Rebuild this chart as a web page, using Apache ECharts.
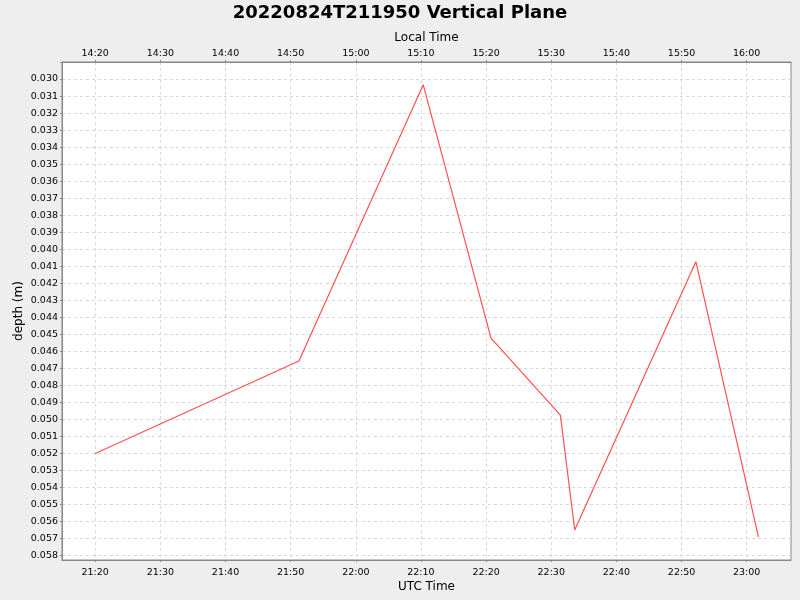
<!DOCTYPE html>
<html>
<head>
<meta charset="utf-8">
<script src="https://cdn.jsdelivr.net/npm/echarts@6/dist/echarts.min.js"></script>
<style>
html,body{margin:0;padding:0;background:#eeeeee;}
#c{width:800px;height:600px;}
</style>
</head>
<body>
<div id="c"></div>
<script>
// UTC sample times and depths (m)
var times = ["21:20:00","21:51:16","22:10:21","22:20:45","22:31:24","22:33:36","22:52:12","23:01:48"];
var depths = [0.0520, 0.04657, 0.03034, 0.04522, 0.04975, 0.0565, 0.04073, 0.0569];
// axis tick labels (UTC) and local offset (hours)
var utcTicks = ["21:20","21:30","21:40","21:50","22:00","22:10","22:20","22:30","22:40","22:50","23:00"];
var localOffsetHours = -7;
var xRange = ["21:14:54","23:06:48"];
var depthRange = [0.029, 0.05826];

function toMin(t){ var p=t.split(':').map(Number); return (p[0]-21)*60+p[1]+(p[2]||0)/60; }
function fmt(m, off){
  var tot = Math.round(m) + 21*60 + off*60;
  tot = ((tot % 1440) + 1440) % 1440;
  var h = Math.floor(tot/60), mm = tot%60;
  return (h<10?'0':'')+h+':'+(mm<10?'0':'')+mm;
}
var tickVals = utcTicks.map(toMin);
var data = times.map(function(t,i){ return [toMin(t), depths[i]]; });

var font = 'DejaVu Sans';
var chart = echarts.init(document.getElementById('c'));
chart.setOption({
  backgroundColor: '#eeeeee',
  animation: false,
  title: {
    text: '20220824T211950 Vertical Plane',
    left: 'center', top: -1,
    textStyle: {fontFamily: font, fontWeight: 'bold', fontSize: 18, color: '#000'}
  },
  grid: {
    left: 62, right: 9, top: 62, bottom: 40,
    outerBoundsMode: 'none', containLabel: false,
    show: true, backgroundColor: '#ffffff', borderColor: '#888888', borderWidth: 1
  },
  xAxis: [{
    type: 'value', position: 'bottom',
    min: toMin(xRange[0]), max: toMin(xRange[1]),
    name: 'UTC Time', nameLocation: 'middle', nameGap: 21, nameMoveOverlap: false,
    nameTextStyle: {fontFamily: font, fontSize: 12, color: '#000'},
    axisLine: {show: true, lineStyle: {color: '#888888'}},
    axisTick: {show: true, length: 2, customValues: tickVals, lineStyle: {color: '#888888'}},
    axisLabel: {customValues: tickVals, fontFamily: font, fontSize: 9.5, color: '#000', margin: 8,
      formatter: function(v){ return fmt(v, 0); }},
    splitLine: {show: true, lineStyle: {color: '#d9d9d9', type: [3,3]}}
  },{
    type: 'value', position: 'top',
    min: toMin(xRange[0]), max: toMin(xRange[1]),
    name: 'Local Time', nameLocation: 'middle', nameGap: 18, nameMoveOverlap: false,
    nameTextStyle: {fontFamily: font, fontSize: 12, color: '#000'},
    axisLine: {show: true, lineStyle: {color: '#888888'}},
    axisTick: {show: true, length: 2, customValues: tickVals, lineStyle: {color: '#888888'}},
    axisLabel: {customValues: tickVals, fontFamily: font, fontSize: 9.5, color: '#000', margin: 3,
      formatter: function(v){ return fmt(v, localOffsetHours); }},
    splitLine: {show: false}
  }],
  yAxis: {
    type: 'value', inverse: true,
    min: depthRange[0], max: depthRange[1], interval: 0.001,
    name: 'depth (m)', nameLocation: 'middle', nameGap: 37, nameRotate: 90, nameMoveOverlap: false,
    nameTextStyle: {fontFamily: font, fontSize: 12, color: '#000'},
    axisLine: {show: true, lineStyle: {color: '#888888'}},
    axisTick: {show: true, length: 2, lineStyle: {color: '#888888'}},
    axisLabel: {fontFamily: font, fontSize: 9.5, color: '#000', margin: 4,
      formatter: function(v){ if (v < 0.0295 || v > 0.0585) return ''; return v.toFixed(3); }},
    splitLine: {show: true, lineStyle: {color: '#d9d9d9', type: [3,3]}}
  },
  series: [{
    type: 'line', xAxisIndex: 0, data: data,
    showSymbol: false, symbol: 'none',
    lineStyle: {color: '#ff5050', width: 1.2}
  }]
});
</script>
</body>
</html>
